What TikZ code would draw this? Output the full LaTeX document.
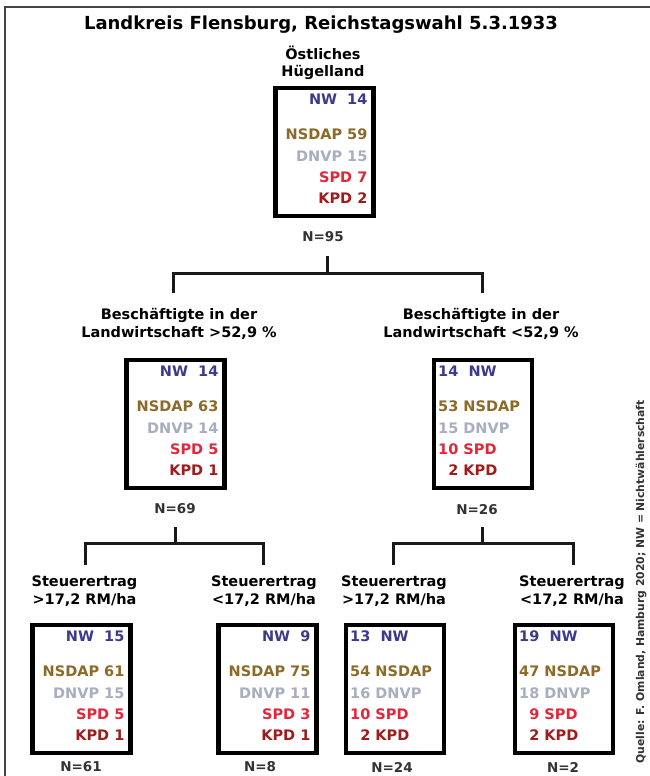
\documentclass[tikz,border=0pt]{standalone}
\usepackage{fontspec}
\setmainfont{DejaVu Sans}
\usetikzlibrary{calc}
\definecolor{cNW}{HTML}{3D3A8C}
\definecolor{cNS}{HTML}{8C6A28}
\definecolor{cDN}{HTML}{A8AEC0}
\definecolor{cSP}{HTML}{E0283A}
\definecolor{cKP}{HTML}{A01C1C}
\definecolor{frame}{HTML}{444444}
\newcommand{\fs}[1]{\fontsize{#1}{#1}\selectfont}
\newcommand{\nb}[1]{\makebox[1.4em][r]{#1}}
% right-aligned party box: name, cx, top, nw, nsdap, dnvp, spd, kpd
\newcommand{\votesR}[8]{%
  \node[pbox] (#1) at (#2,#3+66) {};
  \node[vt,text=cNW,anchor=mid east] (#1nw) at ($(#1.north east)+(-8,16)$) {NW\ \ #4};
  \node[vt,text=cNS,anchor=mid east] (#1ns) at ($(#1.north east)+(-8,51)$) {NSDAP #5};
  \node[vt,text=cDN,anchor=mid east] (#1dn) at ($(#1.north east)+(-8,73)$) {DNVP #6};
  \node[vt,text=cSP,anchor=mid east] (#1sp) at ($(#1.north east)+(-8,94)$) {SPD #7};
  \node[vt,text=cKP,anchor=mid east] (#1kp) at ($(#1.north east)+(-8,115)$) {KPD #8};
}
% left-aligned party box
\newcommand{\votesL}[8]{%
  \node[pbox] (#1) at (#2,#3+66) {};
  \node[vt,text=cNW,anchor=mid west] (#1nw) at ($(#1.north west)+(6,16)$) {\nb{#4}\ \ NW};
  \node[vt,text=cNS,anchor=mid west] (#1ns) at ($(#1.north west)+(6,51)$) {\nb{#5} NSDAP};
  \node[vt,text=cDN,anchor=mid west] (#1dn) at ($(#1.north west)+(6,73)$) {\nb{#6} DNVP};
  \node[vt,text=cSP,anchor=mid west] (#1sp) at ($(#1.north west)+(6,94)$) {\nb{#7} SPD};
  \node[vt,text=cKP,anchor=mid west] (#1kp) at ($(#1.north west)+(6,115)$) {\nb{#8} KPD};
}
\begin{document}
\begin{tikzpicture}[x=1pt,y=-1pt,
  pbox/.style={draw=black,line width=4.2pt,minimum width=98pt,minimum height=128pt,inner sep=0pt},
  vt/.style={inner sep=0pt,font=\bfseries\fs{14.5}},
  lbl/.style={inner sep=0pt,align=center,font=\bfseries\fontsize{14.5}{17.5}\selectfont},
  nlbl/.style={inner sep=0pt,font=\bfseries\fs{13.5},text=black!80},
  conn/.style={line width=3pt,black!90}]
\useasboundingbox (0,0) rectangle (650,776);
\fill[white] (0,0) rectangle (650,776);
\draw[frame,line width=1.5pt] (5,776) -- (5,7) -- (650,7);

\node[inner sep=0pt,font=\bfseries\fs{18}] (title) at (321,25) {Landkreis Flensburg, Reichstagswahl 5.3.1933};

% top level
\node[lbl] (l0) at (323,63) {Östliches\\Hügelland};
\votesR{b0}{324.5}{86}{14}{59}{15}{7}{2}
\node[nlbl] (n0) at (323,237) {N=95};

% level 1 connectors
\coordinate (s1) at (327,256);
\coordinate (j1) at (327,273);
\coordinate (la1) at (173,293);
\coordinate (ra1) at (482,293);
\draw[conn] (s1) -- (j1);
\draw[conn] (la1) |- (j1) -| (ra1);

% level 2
\node[lbl] (lL) at (179,324) {Beschäftigte in der\\Landwirtschaft >52,9 \%};
\node[lbl] (lR) at (481,324) {Beschäftigte in der\\Landwirtschaft <52,9 \%};
\votesR{bL}{175.5}{358}{14}{63}{14}{5}{1}
\votesL{bR}{483}{358}{14}{53}{15}{10}{2}
\node[nlbl] (nL) at (175,509) {N=69};
\node[nlbl] (nR) at (477,510) {N=26};

% level 2 connectors
\coordinate (s2) at (175,527);
\coordinate (j2) at (175,543);
\coordinate (la2) at (85,565);
\coordinate (ra2) at (263,565);
\draw[conn] (s2) -- (j2);
\draw[conn] (la2) |- (j2) -| (ra2);
\coordinate (s3) at (482,527);
\coordinate (j3) at (482,543);
\coordinate (la3) at (393,565);
\coordinate (ra3) at (573,565);
\draw[conn] (s3) -- (j3);
\draw[conn] (la3) |- (j3) -| (ra3);

% level 3
\node[lbl] (lLL) at (84.5,591) {Steuerertrag\\>17,2 RM/ha};
\node[lbl] (lLR) at (264,591) {Steuerertrag\\<17,2 RM/ha};
\node[lbl] (lRL) at (394,591) {Steuerertrag\\>17,2 RM/ha};
\node[lbl] (lRR) at (572,591) {Steuerertrag\\<17,2 RM/ha};
\votesR{bLL}{81.5}{623}{15}{61}{15}{5}{1}
\votesR{bLR}{267.5}{623}{9}{75}{11}{3}{1}
\votesL{bRL}{395}{623}{13}{54}{16}{10}{2}
\votesL{bRR}{564}{623}{19}{47}{18}{9}{2}
\node[nlbl] (nLL) at (81,767) {N=61};
\node[nlbl] (nLR) at (260,767) {N=8};
\node[nlbl] (nRL) at (392,767) {N=24};
\node[nlbl] (nRR) at (563,767) {N=2};

% source
\node[inner sep=0pt,rotate=90,anchor=east,font=\bfseries\fs{10.8},text=black!80] (src) at (641,400) {Quelle: F. Omland, Hamburg 2020; NW = Nichtwählerschaft};
\end{tikzpicture}
\end{document}
